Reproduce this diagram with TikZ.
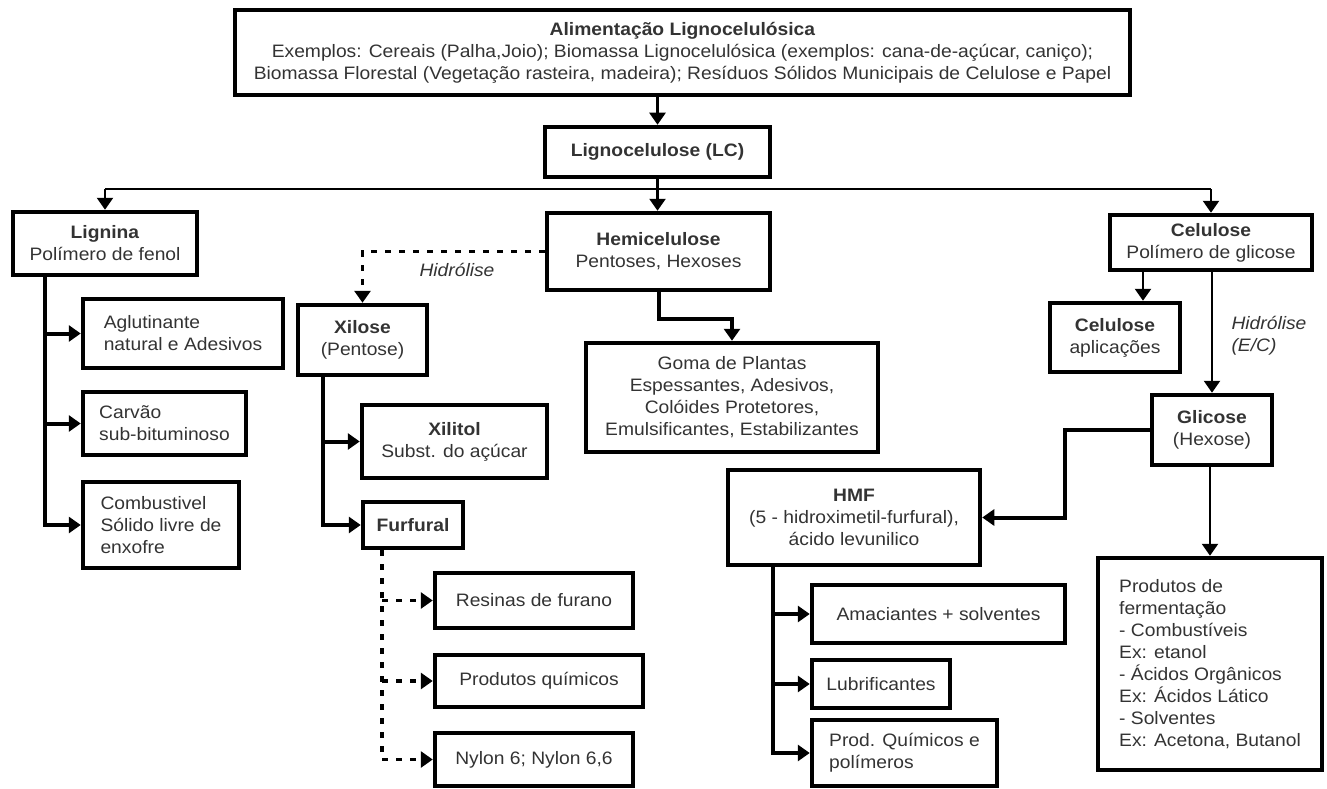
\documentclass[tikz,border=0pt]{standalone}
\usepackage{fontspec}
\setmainfont[FakeStretch=1.07]{Liberation Sans}
\usetikzlibrary{arrows.meta}
\begin{document}
\begin{tikzpicture}[x=1pt,y=-1pt,
  every node/.style={font=\fontsize{18}{22}\selectfont, text=black!80},
  box/.style={draw=black, line width=4.5pt, inner sep=0pt, align=center},
  lbox/.style={box, align=left},
  conn/.style={line width=2.5pt, draw=black},
  thk/.style={line width=4pt, draw=black},
  dsh/.style={line width=3.5pt, draw=black, dash pattern=on 6pt off 8pt},
  wa/.style={-{Triangle[width=16pt,length=12pt]}},
  lab/.style={font=\fontsize{18}{22}\selectfont\itshape}
]
\useasboundingbox (0,0) rectangle (1327,789);

% nodes
\node[box, minimum width=895pt, minimum height=85pt] (top) at (682.5,52.5)
  {\textbf{Alimentação Lignocelulósica}\\
   Exemplos: Cereais (Palha,Joio); Biomassa Lignocelulósica (exemplos: cana-de-açúcar, caniço);\\
   Biomassa Florestal (Vegetação rasteira, madeira); Resíduos Sólidos Municipais de Celulose e Papel};
\node[box, minimum width=225pt, minimum height=50pt] (lc) at (657.5,152) {\textbf{Lignocelulose (LC)}};
\node[box, minimum width=184pt, minimum height=63pt] (lig) at (105,243.5) {\textbf{Lignina}\\Polímero de fenol};
\node[lbox, minimum width=200pt, minimum height=69pt] (agl) at (183,333.5) {Aglutinante\\natural e Adesivos};
\node[lbox, minimum width=163pt, minimum height=63pt] (carv) at (164.5,423.5) {Carvão\\sub-bituminoso};
\node[lbox, minimum width=156pt, minimum height=86pt] (comb) at (161,525) {Combustivel\\Sólido livre de\\enxofre};
\node[box, minimum width=223pt, minimum height=77pt] (hemi) at (658.5,251.5) {\textbf{Hemicelulose}\\Pentoses, Hexoses};
\node[box, minimum width=129pt, minimum height=70pt] (xil) at (362.5,340) {\textbf{Xilose}\\(Pentose)};
\node[box, minimum width=185pt, minimum height=73pt] (xlt) at (454.5,441.5) {\textbf{Xilitol}\\Subst. do açúcar};
\node[box, minimum width=100pt, minimum height=46pt] (furf) at (413,525) {\textbf{Furfural}};
\node[box, minimum width=198pt, minimum height=55pt] (res) at (534,600.5) {Resinas de furano};
\node[box, minimum width=208pt, minimum height=52pt] (pq) at (539,681) {Produtos químicos};
\node[box, minimum width=198pt, minimum height=53pt] (nyl) at (534,759.5) {Nylon 6; Nylon 6,6};
\node[box, minimum width=292pt, minimum height=109pt] (goma) at (732,397.5)
  {Goma de Plantas\\Espessantes, Adesivos,\\Colóides Protetores,\\Emulsificantes, Estabilizantes};
\node[box, minimum width=202pt, minimum height=55pt] (cel) at (1211,242.5) {\textbf{Celulose}\\Polímero de glicose};
\node[box, minimum width=130pt, minimum height=69pt] (apl) at (1115,337.5) {\textbf{Celulose}\\aplicações};
\node[box, minimum width=120pt, minimum height=70pt] (gli) at (1212,430) {\textbf{Glicose}\\(Hexose)};
\node[box, minimum width=252pt, minimum height=95pt] (hmf) at (854,517.5)
  {\textbf{HMF}\\(5 - hidroximetil-furfural),\\ácido levunilico};
\node[box, minimum width=253pt, minimum height=58pt] (ama) at (938.5,614) {Amaciantes + solventes};
\node[lbox, minimum width=138pt, minimum height=48pt] (lub) at (881,684) {Lubrificantes};
\node[lbox, minimum width=185pt, minimum height=66pt] (pqm) at (904.5,753) {Prod. Químicos e\\polímeros};
\node[lbox, minimum width=224pt, minimum height=212pt] (ferm) at (1210,664)
  {Produtos de\\fermentação\\- Combustíveis\\Ex: etanol\\- Ácidos Orgânicos\\Ex: Ácidos Lático\\- Solventes\\Ex: Acetona, Butanol};

\node[lab] (hid1) at (457,270) {Hidrólise};
\node[lab, anchor=west, align=left] (hid2) at (1228,336) {Hidrólise\\(E/C)};

% connectors
\draw[conn, wa] (lc.north |- top.south) -- (lc.north);
\coordinate (bus) at (658,189);
\draw[conn] (lig.north |- bus) -- (cel.north |- bus);
\draw[conn, wa] (lig.north |- bus) -- (lig.north);
\draw[conn, wa] (cel.north |- bus) -- (cel.north);
\draw[conn, wa] (lc.south) -- (lc.south |- hemi.north);

\coordinate (lv) at (45,0);
\draw[thk, wa] (lig.south -| lv) |- (comb.west);
\draw[thk, wa] (lv |- agl.west) -- (agl.west);
\draw[thk, wa] (lv |- carv.west) -- (carv.west);

\draw[dsh, wa] (hemi.west) -| (xil.north);
\draw[thk, wa] (hemi.south) -- ++(0,27) -| (goma.north);

\coordinate (xv) at (323,0);
\draw[thk, wa] (xil.south -| xv) |- (furf.west);
\draw[thk, wa] (xv |- xlt.west) -- (xlt.west);

\coordinate (fv) at (382,0);
\draw[dsh] (furf.south -| fv) -- (fv |- nyl.west);
\draw[dsh, wa] (fv |- res.west) -- (res.west);
\draw[dsh, wa] (fv |- pq.west) -- (pq.west);
\draw[dsh, wa] (fv |- nyl.west) -- (nyl.west);

\coordinate (cv) at (1143,0);
\draw[conn, wa] (cel.south -| cv) -- (apl.north -| cv);
\draw[conn, wa] (cel.south -| gli.north) -- (gli.north);
\coordinate (gv) at (1065,0);
\draw[thk, wa] (gli.west) -- (gli.west -| gv) |- (hmf.east);
\draw[conn, wa] (gli.south -| ferm.north) -- (ferm.north);

\coordinate (mv) at (773,0);
\draw[thk, wa] (hmf.south -| mv) |- (pqm.west);
\draw[thk, wa] (mv |- ama.west) -- (ama.west);
\draw[thk, wa] (mv |- lub.west) -- (lub.west);
\end{tikzpicture}
\end{document}
